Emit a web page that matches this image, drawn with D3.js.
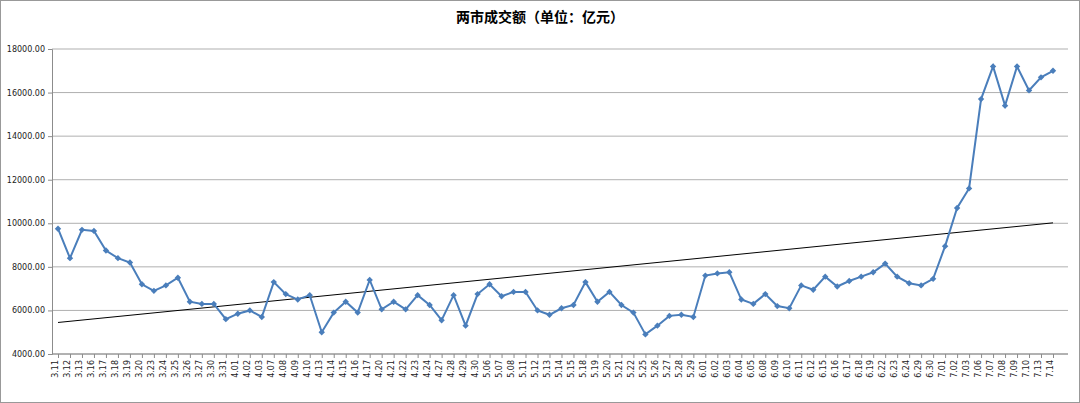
<!DOCTYPE html>
<html><head><meta charset="utf-8">
<script src="https://cdn.jsdelivr.net/npm/d3@7"></script>
<style>body{margin:0;background:#fff}svg{display:block}</style>
</head><body>
<script>
const dates = ["3.11","3.12","3.13","3.16","3.17","3.18","3.19","3.20","3.23","3.24","3.25","3.26","3.27","3.30","3.31",
"4.01","4.02","4.03","4.07","4.08","4.09","4.10","4.13","4.14","4.15","4.16","4.17","4.20","4.21","4.22","4.23","4.24","4.27","4.28","4.29","4.30",
"5.06","5.07","5.08","5.11","5.12","5.13","5.14","5.15","5.18","5.19","5.20","5.21","5.22","5.25","5.26","5.27","5.28","5.29",
"6.01","6.02","6.03","6.04","6.05","6.08","6.09","6.10","6.11","6.12","6.15","6.16","6.17","6.18","6.19","6.22","6.23","6.24","6.29","6.30",
"7.01","7.02","7.03","7.06","7.07","7.08","7.09","7.10","7.13","7.14"];
const turnover = [9750,8400,9700,9650,8750,8400,8200,7200,6900,7150,7500,6400,6300,6300,5600,
5850,6000,5700,7300,6750,6500,6700,5000,5900,6400,5900,7400,6050,6400,6050,6700,6250,5550,6700,5300,6750,
7200,6650,6850,6850,6000,5800,6100,6250,7300,6400,6850,6250,5900,4900,5300,5750,5800,5700,
7600,7700,7750,6500,6300,6750,6200,6100,7150,6950,7550,7100,7350,7550,7750,8150,7550,7250,7150,7450,
8950,10700,11600,15700,17200,15400,17200,16100,16700,17000];
const yTicks = [4000,6000,8000,10000,12000,14000,16000,18000];

const W = 1080, H = 403;
const svg = d3.select("body").append("svg").attr("width", W).attr("height", H);
svg.append("rect").attr("x",0.5).attr("y",0.5).attr("width",W-1).attr("height",H-1)
  .attr("fill","#fff").attr("stroke","#999");

svg.append("text").attr("x", 540).attr("y", 22).attr("text-anchor","middle")
  .attr("font-family","'Noto Sans CJK SC', sans-serif").attr("font-weight","bold")
  .attr("font-size", 14).text("两市成交额（单位：亿元）");

const x = d3.scalePoint().domain(dates).range([58, 1053]);
const y = d3.scaleLinear().domain([4000, 18000]).range([354, 49]);

// grid
svg.append("g").selectAll("line").data(yTicks).join("line")
  .attr("x1", 52).attr("x2", 1068).attr("y1", d => y(d)).attr("y2", d => y(d))
  .attr("stroke", "#8c8c8c").attr("stroke-width", 0.7);

const yAxis = svg.append("g").attr("transform","translate(52,0)")
  .call(d3.axisLeft(y).tickValues(yTicks).tickFormat(d3.format(".2f")).tickSize(4));
yAxis.select(".domain").attr("stroke","#8c8c8c");
yAxis.selectAll("line").attr("stroke","#8c8c8c");
yAxis.selectAll("text").attr("font-size",8).attr("font-family","'DejaVu Sans', sans-serif").attr("fill","#222");

const xAxis = svg.append("g").attr("transform","translate(0,354)")
  .call(d3.axisBottom(x).tickSize(4).tickSizeOuter(0));
xAxis.select(".domain").attr("stroke","#8c8c8c").attr("d","M52,0H1068");
xAxis.selectAll("line").attr("stroke","#8c8c8c");
xAxis.selectAll("text").attr("font-size",8).attr("font-family","'DejaVu Sans', sans-serif").attr("fill","#222")
  .attr("transform","rotate(-90)").attr("text-anchor","end").attr("x",-6).attr("y",-3).attr("dy","0.35em");

// linear trend (least squares)
const n = turnover.length;
const mx = (n - 1) / 2, my = d3.mean(turnover);
const slope = d3.sum(turnover, (v, i) => (i - mx) * (v - my)) / d3.sum(turnover, (v, i) => (i - mx) ** 2);
const trend = [0, n - 1].map(i => ({ d: dates[i], v: my + slope * (i - mx) }));
svg.append("path").datum(trend)
  .attr("d", d3.line().x(p => x(p.d)).y(p => y(p.v)))
  .attr("stroke","#000").attr("stroke-width",1).attr("fill","none");

svg.append("path").datum(turnover)
  .attr("d", d3.line().x((v, i) => x(dates[i])).y(v => y(v)))
  .attr("stroke","#4a7ebb").attr("stroke-width",2).attr("fill","none");

svg.append("g").selectAll("path").data(turnover).join("path")
  .attr("d", d3.symbol(d3.symbolDiamond2, 26))
  .attr("transform", (v, i) => `translate(${x(dates[i])},${y(v)})`)
  .attr("fill","#4a7ebb");
</script>
</body></html>
